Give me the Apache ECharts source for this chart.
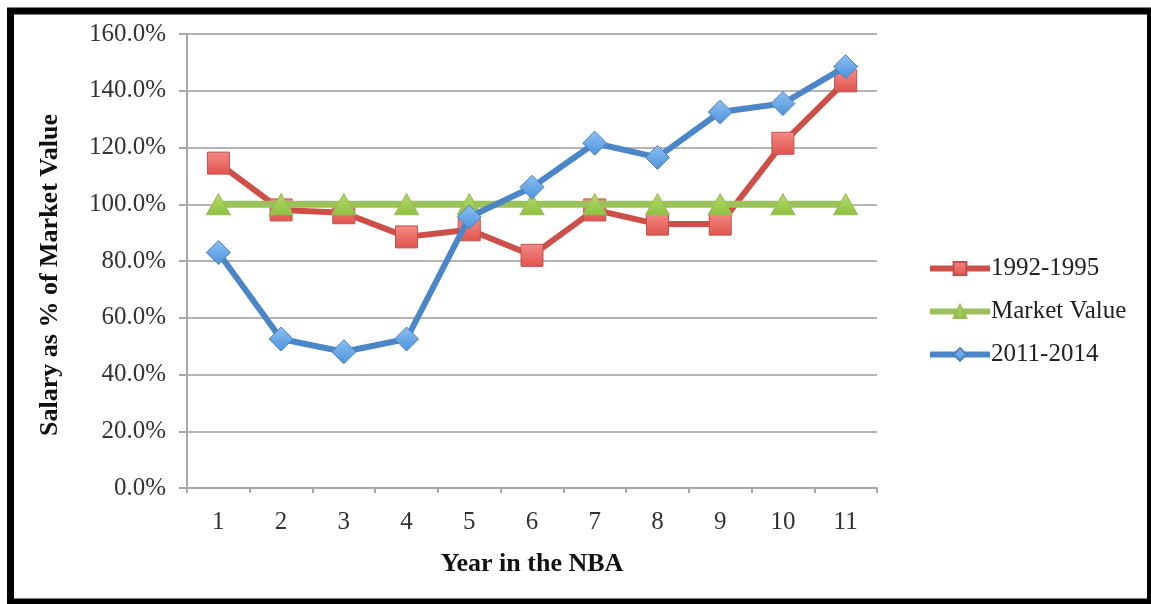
<!DOCTYPE html>
<html>
<head>
<meta charset="utf-8">
<script src="https://cdn.jsdelivr.net/npm/echarts@6/dist/echarts.min.js"></script>
<style>
html,body{margin:0;padding:0;background:#fff;}
#chart{width:1151px;height:604px;}
</style>
</head>
<body>
<div id="chart"></div>
<script>
const categories = ['1','2','3','4','5','6','7','8','9','10','11'];
const series1992 = [114.5, 98, 97, 88.5, 91, 82, 98, 93, 93, 121.5, 143.5];
const seriesMarket = [100, 100, 100, 100, 100, 100, 100, 100, 100, 100, 100];
const series2011 = [83, 52.5, 48, 52.5, 95.5, 106, 121.5, 116.5, 132.5, 135.5, 148.5];
const yTicks = [0, 20, 40, 60, 80, 100, 120, 140, 160];

const serif = '"Liberation Serif", "DejaVu Serif", serif';
const chart = echarts.init(document.getElementById('chart'), null, {renderer: 'canvas'});

function grad(c1, c2) {
  return new echarts.graphic.LinearGradient(0, 0, 0, 1, [
    {offset: 0, color: c1}, {offset: 1, color: c2}
  ]);
}

chart.setOption({
  animation: false,
  backgroundColor: '#ffffff',
  textStyle: {fontFamily: serif},
  grid: {left: 187, right: 274, top: 34, bottom: 116, containLabel: false},
  graphic: [{
    type: 'rect',
    shape: {x: 10.5, y: 11, width: 1140, height: 591},
    style: {fill: 'none', stroke: '#000', lineWidth: 7},
    z: 100
  }],
  legend: {
    orient: 'vertical',
    left: 922,
    top: 251,
    itemWidth: 60,
    itemHeight: 16,
    itemGap: 18,
    lineStyle: {width: 6},
    textStyle: {fontFamily: serif, fontSize: 25, color: '#222', padding: [0, 0, 0, -4]},
    data: ['1992-1995', 'Market Value', '2011-2014']
  },
  xAxis: {
    type: 'category',
    data: categories,
    boundaryGap: true,
    name: 'Year in the NBA',
    nameLocation: 'middle',
    nameGap: 63,
    nameTextStyle: {fontFamily: serif, fontSize: 26, fontWeight: 'bold', color: '#111'},
    axisLine: {lineStyle: {color: '#a8a8a8', width: 2}},
    axisTick: {show: true, length: 5, lineStyle: {color: '#a8a8a8', width: 2}},
    axisLabel: {fontFamily: serif, fontSize: 25, color: '#333', margin: 22}
  },
  yAxis: {
    type: 'value',
    min: 0,
    max: 160,
    interval: 20,
    name: 'Salary as % of Market Value',
    nameLocation: 'middle',
    nameGap: 124,
    nameRotate: 90,
    nameTextStyle: {fontFamily: serif, fontSize: 26, fontWeight: 'bold', color: '#111', padding: [0, 28, 0, 0]},
    axisLine: {show: true, lineStyle: {color: '#a8a8a8', width: 2}},
    axisTick: {show: true, length: 8, lineStyle: {color: '#a8a8a8', width: 2}},
    splitLine: {show: true, lineStyle: {color: '#b4b4b4', width: 2}},
    axisLabel: {
      fontFamily: serif, fontSize: 25, color: '#333', margin: 21,
      formatter: v => yTicks.includes(v) ? v.toFixed(1) + '%' : ''
    }
  },
  series: [
    {
      name: '1992-1995',
      type: 'line',
      data: series1992,
      symbol: 'rect',
      symbolSize: 22,
      lineStyle: {color: '#cd4f48', width: 6},
      itemStyle: {color: grad('#f48a85', '#e0544d'), borderColor: '#c0504d', borderWidth: 1},
      z: 2
    },
    {
      name: 'Market Value',
      type: 'line',
      data: seriesMarket,
      symbol: 'triangle',
      symbolSize: [24, 21],
      lineStyle: {color: '#9bc15a', width: 7},
      itemStyle: {color: grad('#b6dc6a', '#8cc040'), borderColor: '#9bbb59', borderWidth: 1},
      z: 3
    },
    {
      name: '2011-2014',
      type: 'line',
      data: series2011,
      symbol: 'diamond',
      symbolSize: 24,
      lineStyle: {color: '#4a86c8', width: 6},
      itemStyle: {color: grad('#8cc0f2', '#4e92dc'), borderColor: '#4f81bd', borderWidth: 1},
      z: 4
    }
  ]
});
</script>
</body>
</html>
